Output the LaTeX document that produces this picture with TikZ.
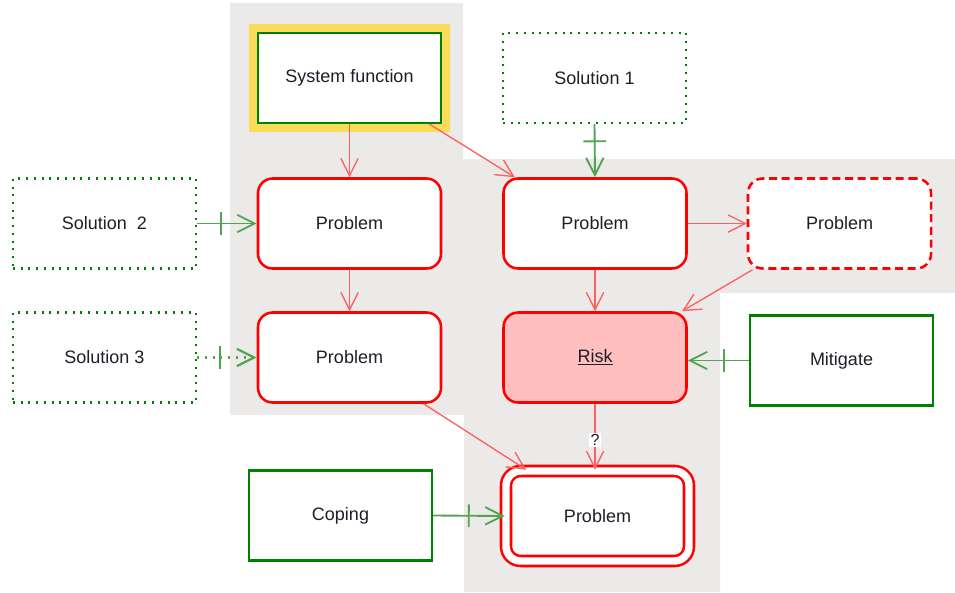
\documentclass[tikz,border=0pt]{standalone}
\usepackage{fontspec}
\setmainfont{Liberation Sans}
\usetikzlibrary{arrows.meta}

\definecolor{probred}{RGB}{255,0,0}
\definecolor{linkred}{RGB}{255,95,95}
\definecolor{solgreen}{RGB}{0,128,0}
\definecolor{linkgreen}{RGB}{80,165,80}
\definecolor{framegold}{RGB}{250,220,90}
\definecolor{riskpink}{RGB}{255,191,191}
\definecolor{areagray}{RGB}{236,233,233}
\definecolor{labelink}{RGB}{30,30,40}

\tikzset{
  box/.style={minimum width=137.25pt, minimum height=67.5pt, inner sep=2pt, fill=white,
    text=labelink, font=\fontsize{13.5}{16}\selectfont},
  problem/.style={box, draw=probred, line width=1.9pt, rounded corners=11pt},
  solution/.style={box, draw=solgreen, line width=1.7pt, dash pattern=on 1.5pt off 4.3pt},
  measure/.style={box, draw=solgreen, line width=1.7pt},
  cause/.style={draw=linkred, line width=1pt, -{Straight Barb[length=13pt,width=13pt]}},
  counter/.style={draw=linkgreen, line width=1.4pt,
    -{Bar[width=17pt,sep=11pt]Straight Barb[length=13pt,width=13pt]}},
}

\begin{document}
\begin{tikzpicture}[x=0.75pt,y=0.75pt,yscale=-1,xscale=1]
\useasboundingbox (0,0) rectangle (955,592);

%Shape: Polygon [grey area]
\fill[areagray] (230,3) -- (463,3) -- (463,159) -- (955,159) -- (955,293) -- (720,293)
  -- (720,592) -- (464,592) -- (464,415) -- (230,415) -- cycle;

%Shape: Rect [system function, gold frame]
\node[measure, preaction={draw=framegold, line width=14pt}] (sysf) at (349.5,78) {System function};
%Shape: Rect [solutions, dotted]
\node[solution] (sol1) at (594.5,78) {Solution 1};
\node[solution] (sol2) at (104.5,223.5) {Solution\ \ 2};
\node[solution] (sol3) at (104.5,357.5) {Solution 3};
%Shape: Rounded Rect [problems]
\node[problem] (prob1) at (349.5,223.5) {Problem};
\node[problem] (prob2) at (595,223.5) {Problem};
\node[problem, dash pattern=on 6pt off 3.5pt] (prob3) at (839.5,223.5) {Problem};
\node[problem] (prob4) at (349.5,357.5) {Problem};
\node[problem, fill=riskpink] (risk) at (595,357.5) {\underline{Risk}};
\node[problem, double=white, double distance=5.6pt] (prob5) at (597.5,516) {Problem};
%Shape: Rect [measures]
\node[measure] (mitig) at (841.5,360.5) {Mitigate};
\node[measure] (coping) at (340.5,515.5) {Coping};

%Straight Lines [causes]
\draw[cause] (sysf.south) -- (prob1.north);
\draw[cause] (sysf.-30) -- (prob2.150);
\draw[cause] (prob1.south) -- (prob4.north);
\draw[cause] (prob2.east) -- (prob3.west);
\draw[cause] (prob2.south) -- (risk.north);
\draw[cause] (prob3.-152) -- (risk.28);
\draw[cause] (prob4.-32) -- (prob5.147);
\draw[cause] (risk.south) -- (risk.south |- prob5.north)
  node[pos=0.55, fill=white, inner sep=1pt, text=labelink, font=\fontsize{12}{14}\selectfont] {?};

%Straight Lines [counter measures]
\draw[counter] (sol1.south) -- (prob2.north);
\draw[counter] (sol2.east) -- (prob1.west);
\draw[counter, dash pattern=on 1.5pt off 4.3pt, line width=1.7pt] (sol3.east) -- (prob4.west);
\draw[counter] (mitig.west) -- (mitig.west -| risk.east);
\draw[counter] (coping.east) -- (prob5.west);

\end{tikzpicture}
\end{document}
